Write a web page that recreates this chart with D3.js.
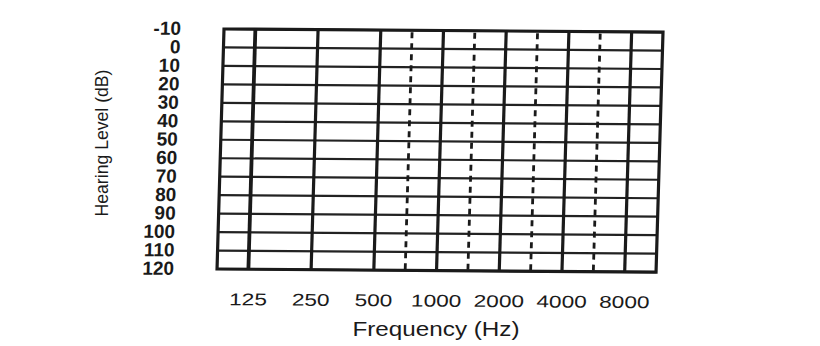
<!DOCTYPE html>
<html lang="en">
    <head>
        <meta charset="utf-8">
        <title>Audiogram</title>
        <script src="https://cdn.jsdelivr.net/npm/d3@7"></script>
        <style>
            body { margin: 0; background: #fff; }
            svg { display: block; }
            .tick text { fill: #1a1a1a; font-family: "Liberation Sans", Arial, sans-serif; }
            .yaxis .tick text { font-size: 19px; font-weight: bold; }
            .xaxis .tick text { font-size: 17px; }
            .label { fill: #1a1a1a; font-family: "Liberation Sans", Arial, sans-serif; }
        </style>
    </head>
    <body>
        <div id="visualization"></div>
        <script>

            // chart data
            var frequencies = ["125", "250", "500", "1000", "2000", "4000", "8000"];
            var halfOctaveAfter = ["500", "1000", "2000", "4000"];   // dashed lines between octaves
            var levels = [-10, 0, 10, 20, 30, 40, 50, 60, 70, 80, 90, 100, 110, 120];
            var xTitle = "Frequency (Hz)";
            var yTitle = "Hearing Level (dB)";

            var width = 439, height = 240;

            var svg = d3.select("#visualization").append("svg")
                        .attr("width", 820)
                        .attr("height", 346);

            // the scanned page is a little skewed, so shear the plot group
            var g = svg.append("g")
                       .attr("transform", "matrix(1,0.007,-0.029,1,224,29)");

            var x = d3.scalePoint()
                      .domain(frequencies)
                      .range([0, width])
                      .padding(0.5);

            var y = d3.scaleLinear()
                      .domain([d3.min(levels), d3.max(levels)])
                      .range([0, height]);

            // horizontal lines every 10 dB
            g.selectAll(".hline")
             .data(levels)
             .enter().append("line")
             .attr("class", "hline")
             .attr("x1", 0)
             .attr("x2", width)
             .attr("y1", function(d) { return y(d); })
             .attr("y2", function(d) { return y(d); })
             .attr("stroke", "#222")
             .attr("stroke-width", 2.2);

            // solid octave lines
            g.selectAll(".vline")
             .data(frequencies)
             .enter().append("line")
             .attr("class", "vline")
             .attr("x1", function(d) { return x(d); })
             .attr("x2", function(d) { return x(d); })
             .attr("y1", 0)
             .attr("y2", height)
             .attr("stroke", "#1a1a1a")
             .attr("stroke-width", function(d, i) { return i === 0 ? 3.8 : 3.2; });

            // dashed half-octave lines
            g.selectAll(".dline")
             .data(halfOctaveAfter)
             .enter().append("line")
             .attr("class", "dline")
             .attr("x1", function(d) { return x(d) + x.step() / 2; })
             .attr("x2", function(d) { return x(d) + x.step() / 2; })
             .attr("y1", 2)
             .attr("y2", height)
             .attr("stroke", "#1a1a1a")
             .attr("stroke-width", 2.8)
             .attr("stroke-dasharray", "6,5");

            // frame
            g.append("rect")
             .attr("x", 0)
             .attr("y", 0)
             .attr("width", width)
             .attr("height", height)
             .attr("fill", "none")
             .attr("stroke", "#1a1a1a")
             .attr("stroke-width", 3.2);

            // y tick labels
            var gyAxis = g.append("g")
                          .attr("class", "yaxis")
                          .call(d3.axisLeft(y).tickValues(levels).tickFormat(String)
                                  .tickSize(0).tickPadding(43));
            gyAxis.select(".domain").remove();
            gyAxis.selectAll("text").attr("dy", "0.3em");

            // x tick labels, the scan stretches them sideways
            var gxAxis = g.append("g")
                          .attr("class", "xaxis")
                          .attr("transform", "translate(0," + height + ")")
                          .call(d3.axisBottom(x).tickSize(0).tickPadding(24));
            gxAxis.select(".domain").remove();
            gxAxis.selectAll("text")
                  .attr("textLength", function(d) { return d.length * 12.6; })
                  .attr("lengthAdjust", "spacingAndGlyphs");

            // axis titles
            svg.append("text")
               .attr("class", "label")
               .attr("x", 436)
               .attr("y", 336)
               .style("text-anchor", "middle")
               .style("font-size", "20px")
               .attr("textLength", 167)
               .attr("lengthAdjust", "spacingAndGlyphs")
               .text(xTitle);

            svg.append("text")
               .attr("class", "label")
               .attr("transform", "translate(108,143) rotate(-90)")
               .style("text-anchor", "middle")
               .style("font-size", "18px")
               .attr("textLength", 147)
               .attr("lengthAdjust", "spacingAndGlyphs")
               .text(yTitle);

        </script>
    </body>
</html>
